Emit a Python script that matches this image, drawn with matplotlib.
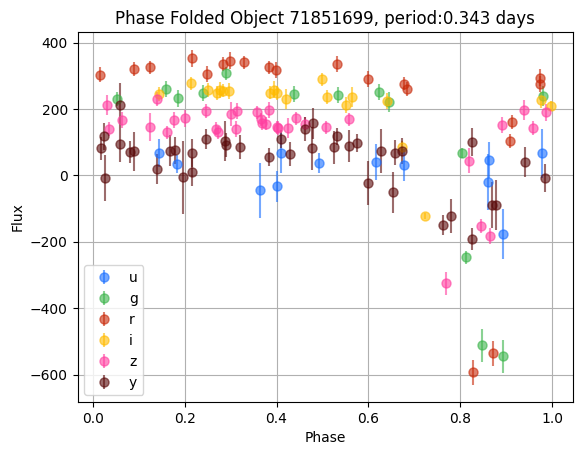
import numpy as np
import matplotlib
matplotlib.use("Agg")
import matplotlib.pyplot as plt

# phase folded light curve, per passband: phase, flux, flux error
u_phase = [0.145, 0.183, 0.365, 0.402, 0.409, 0.493, 0.617, 0.678, 0.859, 0.863, 0.893, 0.978]
u_flux = [67, 34, -45, -32, 67, 37, 41, 32, -20, 47, -176, 67]
u_err = [42, 28, 82, 47, 60, 30, 55, 48, 84, 54, 75, 74]

g_phase = [0.052, 0.159, 0.186, 0.239, 0.289, 0.437, 0.533, 0.624, 0.644, 0.804, 0.812, 0.847, 0.893, 0.980]
g_flux = [230, 260, 232, 248, 308, 245, 242, 251, 221, 67, -246, -511, -544, 240]
g_err = [20, 25, 25, 25, 20, 25, 25, 25, 30, 15, 20, 50, 50, 30]

r_phase = [0.017, 0.091, 0.125, 0.217, 0.249, 0.284, 0.298, 0.330, 0.383, 0.399,
           0.532, 0.598, 0.678, 0.684, 0.828, 0.870, 0.909, 0.912, 0.973, 0.973]
r_flux = [303, 320, 326, 353, 306, 336, 346, 341, 326, 317,
          336, 291, 276, 260, -593, -535, 104, 161, 295, 276]
r_err = [23, 21, 20, 25, 25, 20, 25, 20, 20, 25,
         25, 25, 20, 20, 38, 38, 20, 20, 25, 25]

i_phase = [0.145, 0.213, 0.252, 0.270, 0.278, 0.283, 0.297, 0.385, 0.394, 0.402,
           0.420, 0.500, 0.510, 0.552, 0.565, 0.641, 0.672, 0.724, 0.976, 0.998]
i_flux = [245, 277, 257, 248, 257, 255, 254, 249, 258, 248,
          230, 290, 236, 212, 237, 224, 85, -122, 227, 209]
i_err = [20, 20, 20, 20, 25, 20, 25, 20, 25, 20,
         30, 20, 20, 25, 30, 25, 20, 10, 25, 15]

z_phase = [0.031, 0.035, 0.063, 0.125, 0.139, 0.161, 0.176, 0.200, 0.247, 0.268,
           0.272, 0.300, 0.311, 0.315, 0.357, 0.366, 0.369, 0.378, 0.383, 0.400,
           0.404, 0.426, 0.442, 0.461, 0.508, 0.557, 0.769, 0.819, 0.844, 0.865,
           0.891, 0.939, 0.959, 0.987]
z_flux = [212, 140, 167, 146, 230, 130, 167, 172, 194, 141,
          130, 185, 140, 194, 190, 169, 158, 156, 197, 145,
          143, 143, 172, 156, 145, 169, -325, 44, -152, -182,
          152, 197, 143, 190]
z_err = [30, 20, 25, 41, 20, 20, 25, 25, 20, 20,
         20, 35, 25, 25, 20, 20, 20, 20, 25, 20,
         20, 30, 20, 20, 20, 20, 34, 38, 20, 25,
         25, 30, 20, 25]

y_phase = [0.018, 0.024, 0.026, 0.059, 0.060, 0.082, 0.091, 0.139, 0.169, 0.179,
           0.196, 0.216, 0.217, 0.246, 0.287, 0.289, 0.320, 0.383, 0.410, 0.430,
           0.461, 0.477, 0.479, 0.524, 0.532, 0.557, 0.575, 0.600, 0.628, 0.653,
           0.658, 0.674, 0.763, 0.780, 0.825, 0.826, 0.868, 0.878, 0.941, 0.983]
y_flux = [82, 118, -8, 212, 94, 71, 73, 19, 75, 76,
          -5, 67, 10, 110, 104, 92, 86, 56, 110, 65,
          140, 82, 157, 85, 118, 89, 98, -23, 74, -51,
          69, 74, -149, -122, -192, 100, -89, -89, 40, -8]
y_err = [35, 40, 69, 65, 53, 32, 58, 45, 46, 40,
         110, 42, 43, 29, 59, 35, 35, 26, 27, 35,
         35, 65, 47, 49, 25, 49, 27, 66, 66, 61,
         38, 38, 30, 50, 33, 42, 68, 76, 45, 43]

bands = ['u', 'g', 'r', 'i', 'z', 'y']
colors = ['#1a6fff', '#3cb44b', '#c82a0a', '#ffbb00', '#ff3fa0', '#5a0a0a']
data = [(u_phase, u_flux, u_err), (g_phase, g_flux, g_err), (r_phase, r_flux, r_err),
        (i_phase, i_flux, i_err), (z_phase, z_flux, z_err), (y_phase, y_flux, y_err)]

fig = plt.figure(figsize=(5.83, 4.55), dpi=100)
ax = fig.add_axes([77.5/583, 53/455, 495.5/583, 370/455])

for b, c, (ph, fl, er) in zip(bands, colors, data):
    ax.errorbar(ph, fl, yerr=er, fmt='o', color=c, alpha=0.6, markersize=6.5, label=b)

ax.set_xlim(-0.033, 1.045)
ax.set_ylim(-682, 432)
ax.set_yticks([-600, -400, -200, 0, 200, 400])
ax.grid(True)
ax.set_xlabel('Phase')
ax.set_ylabel('Flux')
ax.set_title('Phase Folded Object 71851699, period:0.343 days')
ax.legend(loc='lower left')

fig.savefig('out.png', dpi=100)
